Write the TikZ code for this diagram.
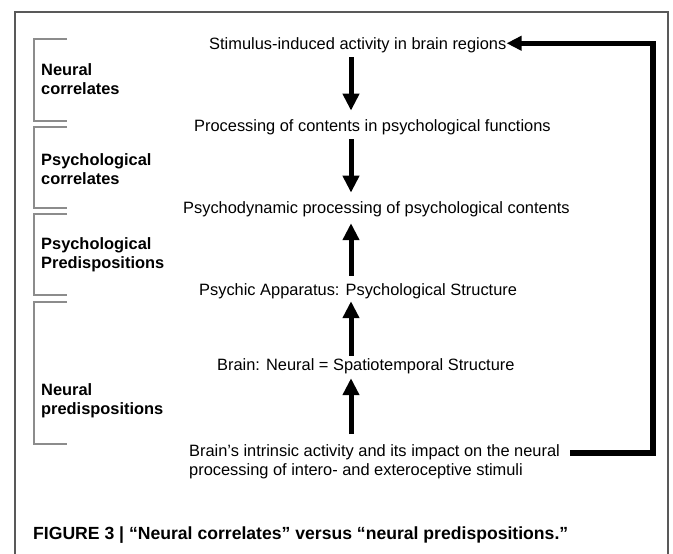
\documentclass[tikz,border=0pt]{standalone}
\usepackage{fontspec}
\setmainfont{Liberation Sans}
\usetikzlibrary{arrows.meta}
\begin{document}
\begin{tikzpicture}[x=1pt,y=-1pt,
  txt/.style={inner sep=0pt, font=\fontsize{16.4}{18.7}\selectfont, anchor=base west},
  txtml/.style={inner sep=0pt, font=\fontsize{16.4}{18.7}\selectfont, align=left, anchor=north west},
  lbl/.style={inner sep=0pt, font=\fontsize{16.4}{19.8}\selectfont\bfseries, align=left, anchor=north west},
  framebox/.style={draw=black!65, line width=1.3pt},
  brk/.style={draw=black!45, line width=1.1pt},
  bigarrow/.style={line width=5pt, -{Triangle[length=17pt,width=16pt]}},
  fb/.style={line width=5.5pt, -{Triangle[length=15pt,width=14pt]}}
]
\useasboundingbox (0,0) rectangle (673,554);
% outer frame (open at the bottom)
\draw[framebox] (15,560) -- (15,12) -- (668,12) -- (668,560);
% brackets
\draw[brk] (67,39) -- (34,39) -- (34,121) -- (67,121);
\draw[brk] (67,127) -- (34,127) -- (34,208) -- (67,208);
\draw[brk] (67,214) -- (34,214) -- (34,295) -- (67,295);
\draw[brk] (67,302) -- (34,302) -- (34,444) -- (67,444);
% labels
\node[lbl] (l1) at (41,63) {Neural\\correlates};
\node[lbl] (l2) at (41,153) {Psychological\\correlates};
\node[lbl] (l3) at (41,237) {Psychological\\Predispositions};
\node[lbl] (l4) at (41,383) {Neural\\predispositions};
% main texts
\node[txt] (n1) at (209,49) {Stimulus-induced activity in brain regions};
\node[txt] (n2) at (194,131.5) {Processing of contents in psychological functions};
\node[txt] (n3) at (183,213.5) {Psychodynamic processing of psychological contents};
\node[txt] (n4) at (199,295.5) {Psychic Apparatus: Psychological Structure};
\node[txt] (n5) at (217,370.5) {Brain: Neural = Spatiotemporal Structure};
\node[txtml] (n6) at (189,444.8) {Brain’s intrinsic activity and its impact on the neural\\processing of intero- and exteroceptive stimuli};
% arrows
\coordinate (ax) at (351,0);
\draw[bigarrow, shorten <=4.6pt, shorten >=8.8pt] (n1.south -| ax) -- (n2.north -| ax);
\draw[bigarrow, shorten <=4.1pt, shorten >=8.8pt] (n2.south -| ax) -- (n3.north -| ax);
\draw[bigarrow, shorten <=7.8pt, shorten >=6.1pt] (n4.north -| ax) -- (n3.south -| ax);
\draw[bigarrow, shorten <=2.8pt, shorten >=2.1pt] (n5.north -| ax) -- (n4.south -| ax);
\draw[bigarrow, shorten <=10.8pt, shorten >=4.1pt] (n6.north -| ax) -- (n5.south -| ax);
% feedback connector
\coordinate (fbs) at (570,453);
\coordinate (fbx) at (653,0);
\draw[fb] (fbs) -- (fbs -| fbx) |- ([yshift=1.5pt]n1.east);
% caption
\node[inner sep=0pt, anchor=base west, font=\fontsize{17.6}{22}\selectfont\bfseries] (cap) at (33,539) {FIGURE 3 | “Neural correlates” versus “neural predispositions.”};
\end{tikzpicture}
\end{document}
